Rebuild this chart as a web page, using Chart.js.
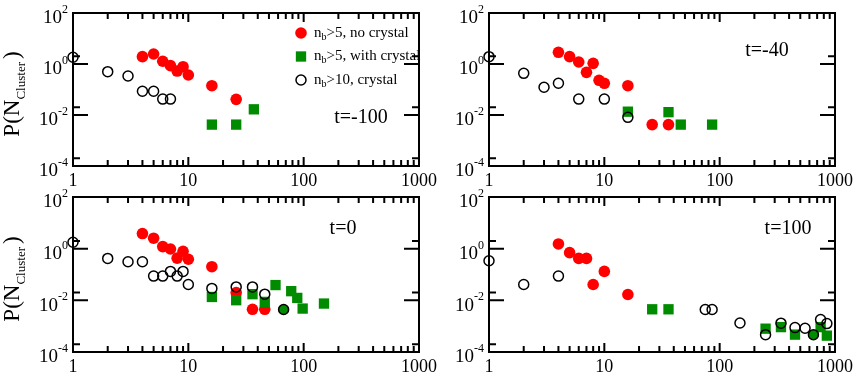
<!DOCTYPE html>
<html>
<head>
<meta charset="utf-8">
<script src="https://cdn.jsdelivr.net/npm/chart.js@4.4.1/dist/chart.umd.min.js"></script>
<style>
  html, body { margin: 0; padding: 0; background: #fff; }
  #wrap { position: relative; width: 859px; height: 390px; }
  #wrap canvas { position: absolute; left: 0; top: 0; }
</style>
</head>
<body>
<div id="wrap">
  <canvas id="pTL" width="859" height="390"></canvas>
  <canvas id="pTR" width="859" height="390"></canvas>
  <canvas id="pBL" width="859" height="390"></canvas>
  <canvas id="pBR" width="859" height="390"></canvas>
</div>
<script>
// ---- data ----
const legendLabels = ['n_b>5, no crystal', 'n_b>5, with crystal', 'n_b>10, crystal'];
const xTickValues = [1, 10, 100, 1000];
const yTickExponents = [2, 0, -2, -4];
const yTitle = ['P(N', 'Cluster', ')'];

// t=-100
const redX_m100 = [4, 5, 6, 7, 8, 9, 10, 16, 26];
const redY_m100 = [1.94, 2.47, 1.28, 0.86, 0.53, 0.785, 0.37, 0.141, 0.041];
const greenX_m100 = [16, 26, 37];
const greenY_m100 = [0.0042, 0.0042, 0.0167];
const openX_m100 = [1, 2, 3, 4, 5, 6, 7];
const openY_m100 = [1.83, 0.5, 0.34, 0.085, 0.085, 0.042, 0.042];

// t=-40
const redX_m40 = [4, 5, 6, 7, 8, 9, 10, 16, 26, 36];
const redY_m40 = [2.88, 1.94, 1.2, 0.47, 1.06, 0.23, 0.175, 0.141, 0.0042, 0.0042];
const greenX_m40 = [16, 36, 46, 86];
const greenY_m40 = [0.0135, 0.0129, 0.0042, 0.0042];
const openX_m40 = [1, 2, 3, 4, 6, 10, 16];
const openY_m40 = [1.94, 0.43, 0.122, 0.175, 0.042, 0.042, 0.0081];

// t=0
const redX_0 = [4, 5, 6, 7, 8, 9, 10, 16, 26, 36, 46];
const redY_0 = [3.84, 2.54, 1.2, 0.97, 0.43, 0.79, 0.39, 0.2, 0.02, 0.0045, 0.0045];
const greenX_0 = [16, 26, 36, 46, 57, 78, 88, 98, 150];
const greenY_0 = [0.0135, 0.0101, 0.0173, 0.0087, 0.039, 0.0226, 0.0124, 0.0048, 0.0075];
const openX_0 = [1, 2, 3, 4, 5, 6, 7, 8, 9, 10, 16, 26, 36, 46, 67];
const openY_0 = [1.77, 0.42, 0.31, 0.31, 0.087, 0.087, 0.132, 0.087, 0.132, 0.041, 0.029, 0.033, 0.033, 0.0173, 0.0044];
const filledOpenX_0 = [67];

// t=100
const redX_100 = [4, 5, 6, 7, 8, 10, 16];
const redY_100 = [1.52, 0.7, 0.42, 0.42, 0.041, 0.132, 0.0168];
const greenX_100 = [26, 36, 250, 340, 450, 750, 850];
const greenY_100 = [0.0045, 0.0045, 0.0008, 0.00092, 0.00047, 0.00092, 0.00043];
const openX_100 = [1, 2, 4, 75, 86, 150, 250, 340, 450, 550, 650, 750, 850];
const openY_100 = [0.34, 0.041, 0.087, 0.0044, 0.0044, 0.00132, 0.00047, 0.00131, 0.00088, 0.00083, 0.00047, 0.0018, 0.00126];
const filledOpenX_100 = [650];

// ---- look ----
const RED = '#ff0000', GREEN = '#008b00';
const SERIF = '"Liberation Serif", "DejaVu Serif", serif';

const panels = [
  { id: 'pTL', label: 't=-100', box: [73, 13, 419, 166], labelAt: [361, 118], legend: true, yTitle: true,
    red: [redX_m100, redY_m100], green: [greenX_m100, greenY_m100], open: [openX_m100, openY_m100], filled: [] },
  { id: 'pTR', label: 't=-40', box: [489, 13, 835, 166], labelAt: [767, 51], legend: false, yTitle: false,
    red: [redX_m40, redY_m40], green: [greenX_m40, greenY_m40], open: [openX_m40, openY_m40], filled: [] },
  { id: 'pBL', label: 't=0', box: [73, 197, 419, 352], labelAt: [343, 229], legend: false, yTitle: true,
    red: [redX_0, redY_0], green: [greenX_0, greenY_0], open: [openX_0, openY_0], filled: filledOpenX_0 },
  { id: 'pBR', label: 't=100', box: [489, 197, 835, 352], labelAt: [788, 229], legend: false, yTitle: false,
    red: [redX_100, redY_100], green: [greenX_100, greenY_100], open: [openX_100, openY_100], filled: filledOpenX_100 },
];

const pts = (xs, ys) => xs.map((v, i) => ({ x: v, y: ys[i] }));

// text with a raised or lowered small part, e.g. 10^-2 or n_b
function drawRich(ctx, parts, x, y) {
  let cx = x;
  parts.forEach(p => {
    ctx.font = `${p.size}px ${SERIF}`;
    cx += p.dx || 0;
    ctx.fillText(p.text, cx, y + (p.dy || 0));
    cx += ctx.measureText(p.text).width;
  });
  return cx - x;
}
function richWidth(ctx, parts) {
  return parts.reduce((w, p) => { ctx.font = `${p.size}px ${SERIF}`; return w + (p.dx || 0) + ctx.measureText(p.text).width; }, 0);
}

const framePlugin = {
  id: 'frameAxes',
  beforeDatasetsDraw(chart, args, opts) {
    const { ctx, chartArea: a, scales: { x, y } } = chart;
    ctx.save();
    ctx.strokeStyle = '#000';
    ctx.lineWidth = 2;
    ctx.strokeRect(a.left, a.top, a.right - a.left, a.bottom - a.top);
    ctx.beginPath();
    // x ticks, bottom and top
    for (let d = 1; d < 1000; d *= 10) {
      for (let m = 1; m <= 9; m++) {
        const px = x.getPixelForValue(m * d);
        const len = m === 1 ? 9 : 6;
        ctx.moveTo(px, a.bottom); ctx.lineTo(px, a.bottom - len);
        ctx.moveTo(px, a.top); ctx.lineTo(px, a.top + len);
      }
    }
    // y ticks, left and right
    yTickExponents.forEach(e => {
      const py = y.getPixelForValue(Math.pow(10, e));
      ctx.moveTo(a.left, py); ctx.lineTo(a.left + 15, py);
      ctx.moveTo(a.right, py); ctx.lineTo(a.right - 15, py);
      const pm = y.getPixelForValue(2 * Math.pow(10, e));
      if (pm > a.top + 1) {
        ctx.moveTo(a.left, pm); ctx.lineTo(a.left + 7, pm);
        ctx.moveTo(a.right, pm); ctx.lineTo(a.right - 7, pm);
      }
    });
    ctx.stroke();

    ctx.fillStyle = '#000';
    // x tick labels
    ctx.textAlign = 'center';
    ctx.textBaseline = 'middle';
    ctx.font = `18px ${SERIF}`;
    xTickValues.forEach(v => ctx.fillText(String(v), x.getPixelForValue(v), a.bottom + 15));
    // y tick labels 10^e
    ctx.textAlign = 'left';
    yTickExponents.forEach(e => {
      const py = y.getPixelForValue(Math.pow(10, e));
      const parts = [{ text: '10', size: 19, dy: 5.5 }, { text: String(e), size: 12, dy: -3 }];
      const w = richWidth(ctx, parts);
      drawRich(ctx, parts, a.left - 5 - w, py);
    });
    // y axis title
    if (opts.yTitle) {
      const parts = [{ text: yTitle[0], size: 23 }, { text: yTitle[1], size: 13, dy: 6 }, { text: yTitle[2], size: 23, dx: 3 }];
      ctx.textBaseline = 'alphabetic';
      const w = richWidth(ctx, parts);
      ctx.translate(19, (a.top + a.bottom) / 2 + 4.5);
      ctx.rotate(-Math.PI / 2);
      drawRich(ctx, parts, -w / 2, 0);
      ctx.setTransform(1, 0, 0, 1, 0, 0);
    }
    // panel label
    ctx.textAlign = 'center';
    ctx.textBaseline = 'middle';
    ctx.font = `20px ${SERIF}`;
    ctx.fillText(opts.label, opts.labelAt[0], opts.labelAt[1]);
    ctx.restore();
  },
  afterDatasetsDraw(chart, args, opts) {
    if (!opts.legend) return;
    const { ctx } = chart;
    ctx.save();
    ctx.textAlign = 'left';
    ctx.textBaseline = 'middle';
    chart.data.datasets.forEach((ds, i) => {
      const mx = 301, my = 33 + i * 23.5;
      ctx.fillStyle = ds.legendFill;
      ctx.strokeStyle = ds.borderColor;
      ctx.lineWidth = ds.borderWidth;
      Chart.helpers.drawPoint(ctx, { pointStyle: ds.pointStyle, radius: ds.pointRadius, rotation: 0, borderWidth: ds.borderWidth }, mx, my);
      ctx.fillStyle = '#000';
      const [pre, post] = ds.label.split('_');
      drawRich(ctx, [{ text: pre, size: 15 }, { text: post.charAt(0), size: 10, dy: 4 }, { text: post.slice(1), size: 15 }], 314, my);
    });
    ctx.restore();
  }
};

panels.forEach(p => {
  const [l, t, r, b] = p.box;
  new Chart(document.getElementById(p.id), {
    type: 'scatter',
    data: {
      datasets: [
        { label: legendLabels[0], data: pts(...p.red), pointStyle: 'circle', pointRadius: 5.8,
          backgroundColor: RED, borderColor: RED, borderWidth: 0, legendFill: RED, order: 3, clip: false },
        { label: legendLabels[1], data: pts(...p.green), pointStyle: 'rect', pointRadius: 7.3,
          backgroundColor: GREEN, borderColor: GREEN, borderWidth: 0, legendFill: GREEN, order: 2, clip: false },
        { label: legendLabels[2], data: pts(...p.open), pointStyle: 'circle', pointRadius: 5,
          backgroundColor: p.open[0].map(v => p.filled.includes(v) ? GREEN : 'rgba(0,0,0,0)'),
          borderColor: '#000', borderWidth: 1.5, legendFill: 'rgba(0,0,0,0)', order: 1, clip: false },
      ]
    },
    options: {
      responsive: false,
      animation: false,
      events: [],
      layout: { padding: { left: l, top: t, right: 859 - r, bottom: 390 - b } },
      scales: {
        x: { type: 'logarithmic', min: 1, max: 1000, display: false },
        y: { type: 'logarithmic', min: 1e-4, max: 1e2, display: false }
      },
      plugins: {
        legend: { display: false },
        tooltip: { enabled: false },
        frameAxes: { label: p.label, labelAt: p.labelAt, legend: p.legend, yTitle: p.yTitle }
      }
    },
    plugins: [framePlugin]
  });
});
</script>
</body>
</html>
